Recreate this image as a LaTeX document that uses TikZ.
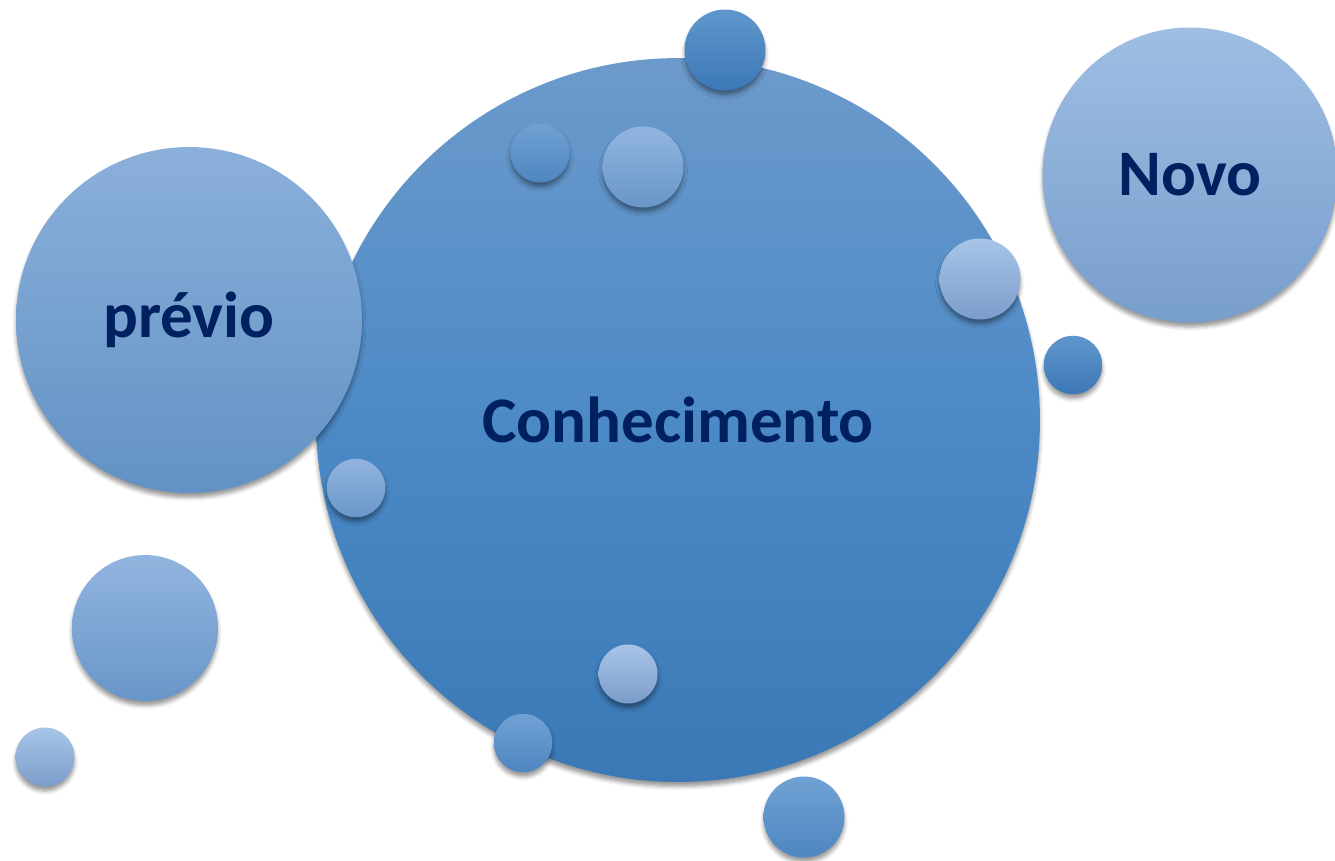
\documentclass[tikz,border=0pt]{standalone}
\usepackage{fontspec}
\setmainfont{Carlito}
\usepackage{tikz}
\usetikzlibrary{shapes,shadows,shadows.blur,positioning}
\definecolor{navytext}{RGB}{0,32,96}
\tikzstyle{bubble} = [circle, inner sep=0pt, blur shadow={shadow xshift=0pt, shadow yshift=-2.6pt, shadow blur radius=2.2pt, shadow opacity=40}]
\tikzstyle{maintext} = [font=\fontsize{37}{44}\selectfont\bfseries, text=navytext]
\tikzstyle{centre} = [bubble, maintext, minimum size=14.48cm, top color={rgb,255:red,108;green,154;blue,203}, bottom color={rgb,255:red,58;green,120;blue,182}, middle color={rgb,255:red,76;green,138;blue,199}]
\tikzstyle{before} = [bubble, maintext, minimum size=6.92cm, top color={rgb,255:red,139;green,176;blue,218}, bottom color={rgb,255:red,98;green,146;blue,197}]
\tikzstyle{after} = [bubble, maintext, minimum size=5.9cm, top color={rgb,255:red,158;green,190;blue,227}, bottom color={rgb,255:red,120;green,158;blue,204}]
\tikzstyle{dark} = [bubble, top color={rgb,255:red,96;green,150;blue,205}, bottom color={rgb,255:red,60;green,120;blue,183}]
\tikzstyle{mid} = [bubble, top color={rgb,255:red,112;green,161;blue,212}, bottom color={rgb,255:red,78;green,134;blue,192}]
\tikzstyle{light} = [bubble, top color={rgb,255:red,146;green,181;blue,223}, bottom color={rgb,255:red,104;green,150;blue,200}]
\tikzstyle{pale} = [bubble, top color={rgb,255:red,168;green,197;blue,232}, bottom color={rgb,255:red,124;green,157;blue,203}]
\newcommand{\bubble}[3]{node (s#1) [#3, minimum size=#2] {}}

\begin{document}
\begin{tikzpicture}[x=0.02cm,y=-0.02cm]
\useasboundingbox (0,0) rectangle (1335,860);
\path (678,420) node (k) [centre] {Conhecimento};
\path (189,320) node (p) [before] {prévio};
\path (1190,175) node (n) [after] {Novo};

% bubbles round the centre
\path (k)+(47,-370) \bubble{1}{1.62cm}{dark};
\path (k)+(-138,-267) \bubble{2}{1.18cm}{mid};
\path (k)+(-35,-253) \bubble{3}{1.62cm}{light};
\path (k)+(302,-141) \bubble{4}{1.62cm}{pale};
\path (k)+(395,-55) \bubble{5}{1.17cm}{dark};
\path (k)+(-322,68) \bubble{6}{1.17cm}{light};
\path (k)+(-50,254) \bubble{7}{1.18cm}{pale};
\path (k)+(-155,323) \bubble{8}{1.17cm}{mid};
\path (k)+(126,397) \bubble{9}{1.62cm}{mid};

% loose ones on the left
\path (p)+(-44,308) \bubble{10}{2.92cm}{light};
\path (s10)+(-100,129) \bubble{11}{1.18cm}{pale};
\end{tikzpicture}
\end{document}
